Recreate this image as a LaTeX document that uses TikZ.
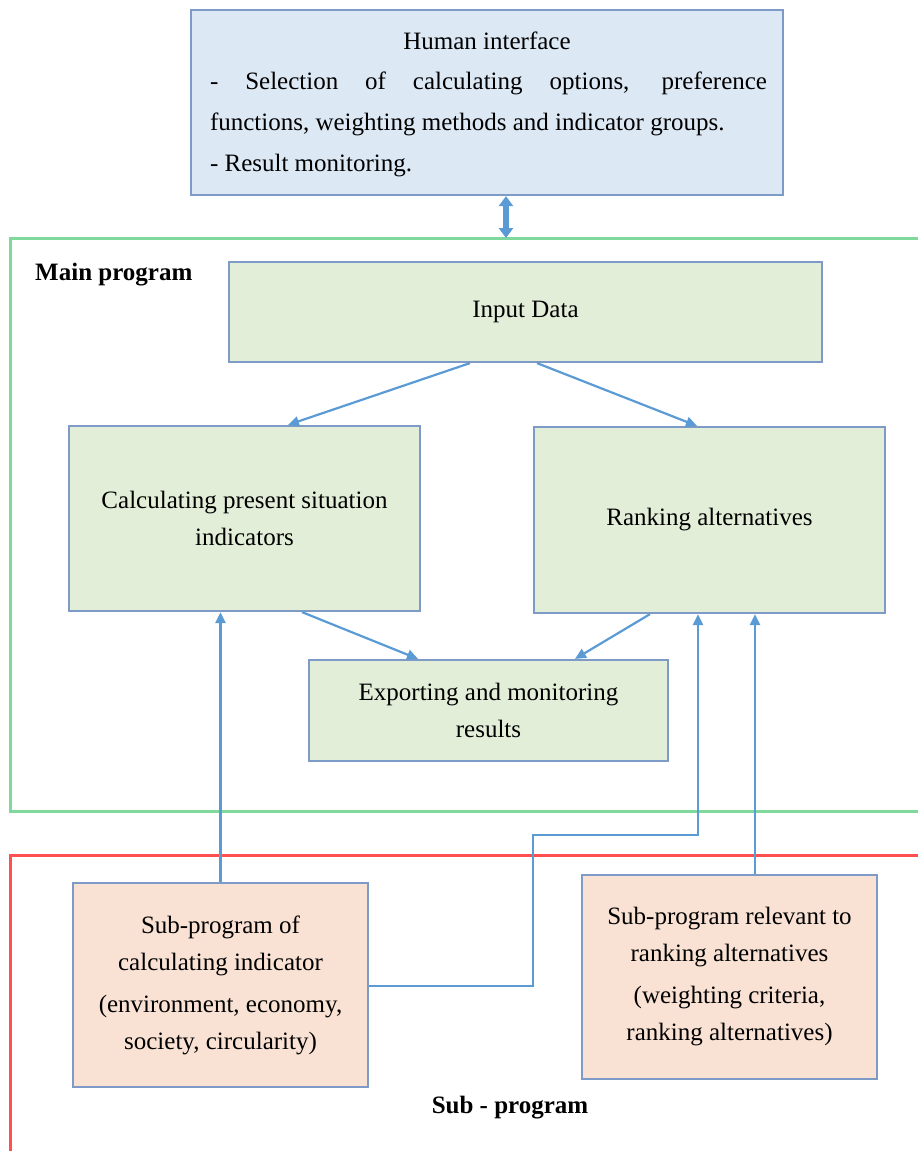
\documentclass[tikz,border=0pt]{standalone}
\usepackage{fontspec}
\setmainfont{Liberation Serif}
\usetikzlibrary{arrows.meta}
\definecolor{hifill}{HTML}{DDE8F5}
\definecolor{mainfill}{HTML}{E3EED9}
\definecolor{subfill}{HTML}{F9E2D4}
\definecolor{boxline}{HTML}{7D9BC6}
\definecolor{arrowblue}{HTML}{5B9BD5}
\definecolor{framegreen}{HTML}{7FD89C}
\definecolor{framered}{HTML}{FF5050}
\tikzset{
  txt/.style={font=\fontsize{25}{37}\selectfont, inner sep=0pt},
  box/.style={draw=boxline, line width=2.2pt, minimum width=#1, inner sep=0pt, align=center,
              font=\fontsize{25}{37}\selectfont},
  hibox/.style={box=#1, fill=hifill},
  mainbox/.style={box=#1, fill=mainfill},
  subbox/.style={box=#1, fill=subfill},
  flow/.style={draw=arrowblue, line width=2.2pt, -{Triangle[length=11pt,width=10pt]}},
  frame/.style={line width=3pt},
}
\begin{document}
\begin{tikzpicture}[x=1pt, y=-1pt]
\useasboundingbox (0,0) rectangle (918,1151);
\clip (0,0) rectangle (918,1151);
\fill[white] (0,0) rectangle (918,1151);

% program frames
\draw[frame, draw=framegreen] (10,238) rectangle (930,811);
\draw[frame, draw=framered] (10,855) rectangle (930,1170);
\node[txt, font=\fontsize{25}{37}\selectfont\bfseries, anchor=west] (mainlabel) at (35,275) {Main program};
\node[txt, font=\fontsize{25}{37}\selectfont\bfseries] (sublabel) at (510,1108) {Sub - program};

% human interface
\node[hibox=592pt, minimum height=185pt] (hi) at (487,102.5) {};
\node[txt] (hititle) at (487,41) {Human interface};
\node[txt, text width=557pt, align=justify, font=\fontsize{25}{41}\selectfont] (hibody) at (488.5,124)
  {- Selection of calculating options, preference\linebreak functions, weighting methods and indicator groups.\\
   - Result monitoring.};

% main program boxes
\node[mainbox=593pt, minimum height=100pt] (input) at (525.5,312) {Input Data};
\node[mainbox=351pt, minimum height=185pt] (calc) at (244.5,518.5) {Calculating present situation\\indicators};
\node[mainbox=351pt, minimum height=186pt] (rank) at (709.5,520) {Ranking alternatives};
\node[mainbox=359pt, minimum height=101pt] (export) at (488.5,710.5) {Exporting and monitoring\\results};

% sub-program boxes
\node[subbox=295pt, minimum height=204pt] (sub1) at (220.5,985)
  {Sub-program of\\calculating indicator\\[5pt](environment, economy,\\society, circularity)};
\node[subbox=295pt, minimum height=204pt] (sub2) at (729.5,977)
  {Sub-program relevant to\\ranking alternatives\\[5pt](weighting criteria,\\ranking alternatives)};

% interface link
\draw[draw=arrowblue, line width=6pt, {Triangle[length=10pt,width=14pt]}-{Triangle[length=10pt,width=14pt]}]
  (hi.south -| 506,0) -- (506,238);

% data flow
\draw[flow] (input.south -| 470,0) -- (calc.north -| 288,0);
\draw[flow] (input.south -| 537,0) -- (rank.north -| 697,0);
\draw[flow] (calc.south -| 302,0) -- (export.north -| 418,0);
\draw[flow] (rank.south -| 650,0) -- (export.north -| 575,0);

% sub-program links
\coordinate (bendA) at (533,986);
\coordinate (bendB) at (533,835);
\coordinate (bendC) at (698,835);
\draw[flow] (sub1.north) -- (sub1.north |- calc.south);
\draw[flow] (sub1.east |- bendA) -- (bendA) -- (bendB) -- (bendC) -- (bendC |- rank.south);
\draw[flow] (sub2.north -| 755,0) -- (rank.south -| 755,0);
\end{tikzpicture}
\end{document}
